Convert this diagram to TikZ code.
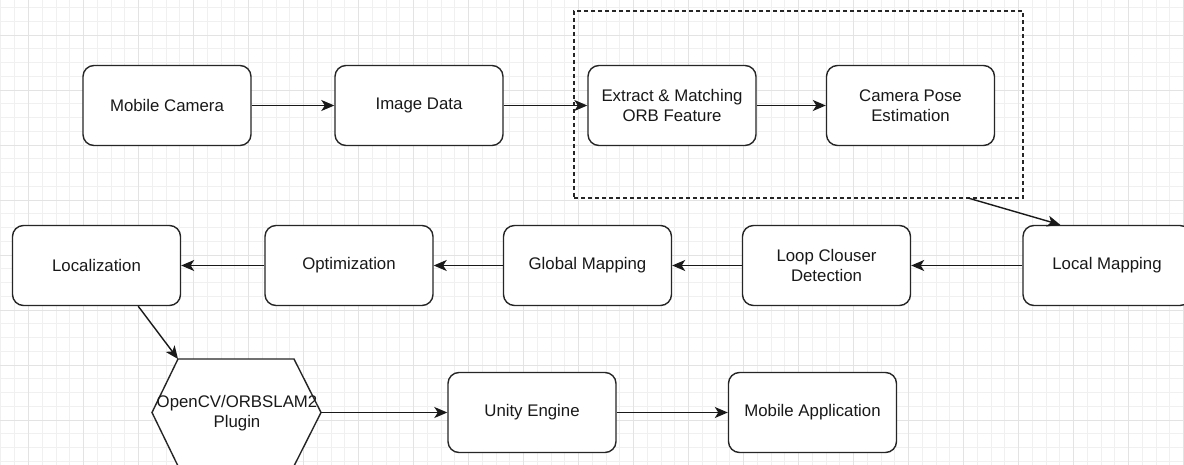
\documentclass[tikz,border=0pt]{standalone}
\usepackage{fontspec}
\setmainfont{Liberation Sans}
\usetikzlibrary{arrows.meta}
\tikzset{
  box/.style={draw=black!85, line width=1.4pt, rounded corners=11pt, fill=white,
    minimum width=168pt, minimum height=80pt, align=center, inner sep=0pt,
    font=\fontsize{16.8}{19.5}\selectfont, text=black!90},
  conn/.style={draw=black!90, line width=1.4pt, -{Stealth[length=13pt,width=11pt,inset=3.5pt]}},
  grp/.style={draw=black!85, line width=1.4pt, dash pattern=on 4pt off 3pt,
    minimum width=449pt, minimum height=187pt, inner sep=0pt},
  hexshape/.style={draw=black!85, line width=1.4pt, fill=white, line join=miter},
  hextext/.style={align=center, inner sep=0pt, font=\fontsize{16.8}{19.5}\selectfont, text=black!90},
  gridminor/.style={draw=black!6, line width=0.6pt},
  gridmajor/.style={draw=black!11, line width=0.6pt},
}
\begin{document}
\begin{tikzpicture}[x=1pt,y=-1pt]
\useasboundingbox (0,0) rectangle (1184,465);
\clip (0,0) rectangle (1184,465);
\fill[white] (0,0) rectangle (1184,465);
% grid
\foreach \i in {0,...,86} {
  \pgfmathsetmacro\gx{0.8+13.75*\i}
  \draw[gridminor] (\gx,0) -- (\gx,465);
}
\foreach \i in {0,...,34} {
  \pgfmathsetmacro\gy{7.5+13.75*\i}
  \draw[gridminor] (0,\gy) -- (1184,\gy);
}
\foreach \i in {0,...,21} {
  \pgfmathsetmacro\gx{28+55*\i}
  \draw[gridmajor] (\gx,0) -- (\gx,465);
}
\foreach \i in {0,...,8} {
  \pgfmathsetmacro\gy{35+55*\i}
  \draw[gridmajor] (0,\gy) -- (1184,\gy);
}
% group
\node[grp] (grp) at (798.5,104.5) {};
% row 1
\node[box] (mc) at (167,105.5) {Mobile Camera};
\node[box] (id) at (419,105.5) {Image Data};
\node[box] (orb) at (672,105.5) {Extract \& Matching\\ORB Feature};
\node[box] (cp) at (910.5,105.5) {Camera Pose\\Estimation};
% row 2
\node[box] (lm) at (1107,265.5) {Local Mapping};
\node[box] (lc) at (826.5,265.5) {Loop Clouser\\Detection};
\node[box] (gm) at (587.5,265.5) {Global Mapping};
\node[box] (op) at (349,265.5) {Optimization};
\node[box] (lo) at (96.5,265.5) {Localization};
% row 3
\coordinate (hTL) at (178,359);
\coordinate (hTR) at (294,359);
\coordinate (hR) at (321,412.5);
\coordinate (hBR) at (294,466);
\coordinate (hBL) at (178,466);
\coordinate (hL) at (152,412.5);
\draw[hexshape] (hTL) -- (hTR) -- (hR) -- (hBR) -- (hBL) -- (hL) -- cycle;
\node[hextext] (plug) at (237,413) {OpenCV/ORBSLAM2\\Plugin};
\node[box] (ue) at (532,412.5) {Unity Engine};
\node[box] (ma) at (812.5,412.5) {Mobile Application};
% connectors
\draw[conn] (mc) -- (id);
\draw[conn] (id) -- (orb);
\draw[conn] (orb) -- (cp);
\coordinate (gout) at (968,198);
\draw[conn] (gout) -- ([xshift=38pt]lm.north west);
\draw[conn] (lm) -- (lc);
\draw[conn] (lc) -- (gm);
\draw[conn] (gm) -- (op);
\draw[conn] (op) -- (lo);
\draw[conn] ([xshift=-43pt]lo.south east) -- (hTL);
\draw[conn] (hR) -- (ue);
\draw[conn] (ue) -- (ma);
\end{tikzpicture}
\end{document}
